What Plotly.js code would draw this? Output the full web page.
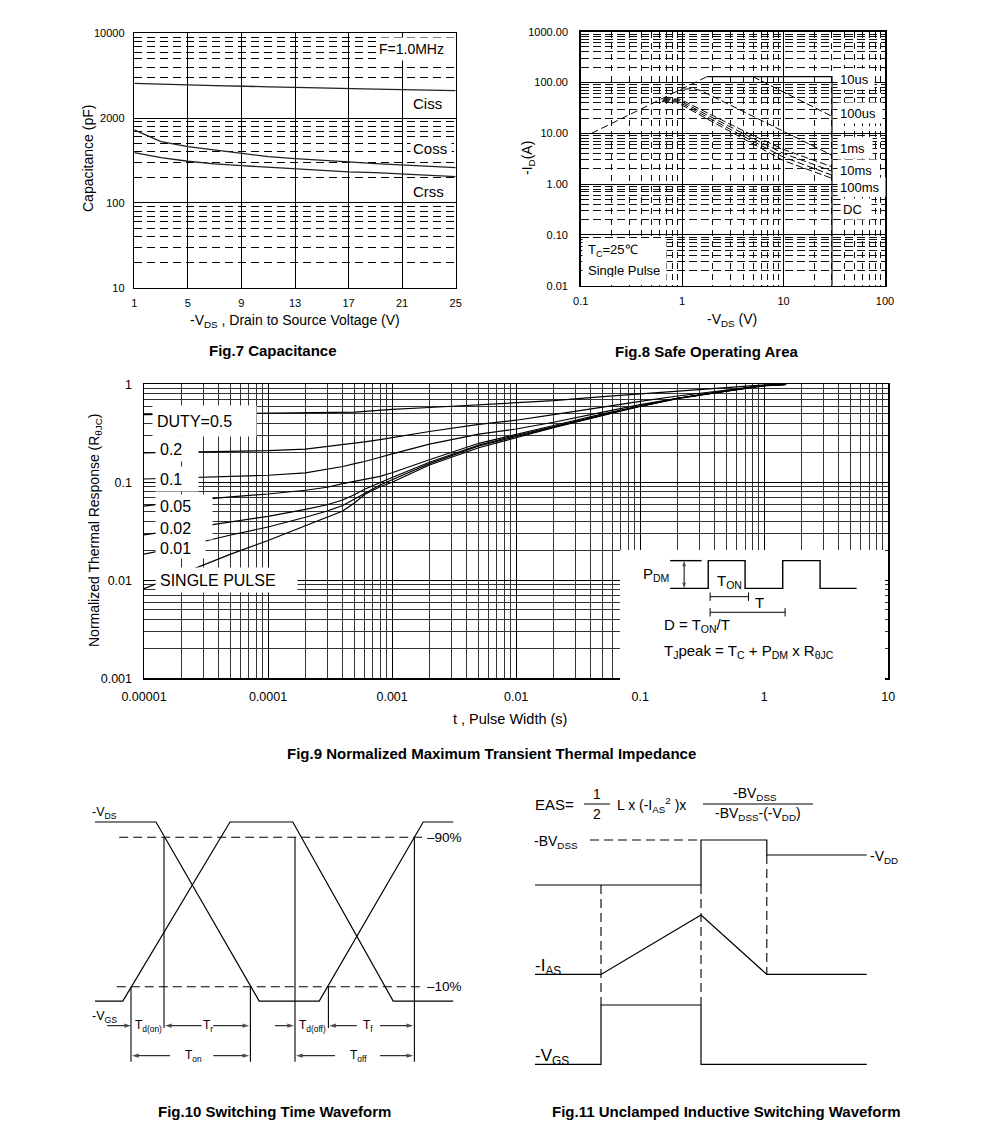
<!DOCTYPE html>
<html><head><meta charset="utf-8">
<script src="https://cdn.plot.ly/plotly-3.0.1.min.js"></script>
<style>html,body{margin:0;padding:0;background:#fff}#chart{width:991px;height:1138px}</style>
</head><body><div id="chart"></div>
<script>
// ---------------- DATA ----------------
// Fig.7 Capacitance
const capVds  = [1, 3, 5, 7, 9, 11, 13, 15, 17, 19, 21, 23, 25];
const capCiss = [2570, 2540, 2460, 2420, 2360, 2340, 2300, 2280, 2250, 2200, 2170, 2140, 2110];
const capCoss = [725, 527, 461, 421, 378, 351, 333, 321, 304, 290, 280, 273, 261];
const capCrss = [392, 342, 310, 288, 275, 263, 251, 241, 232, 228, 219, 211, 204];
const capXTicks = [1, 5, 9, 13, 17, 21, 25];
const capYTickVals = [10, 100, 1000, 10000];
const capYTickText = ['10', '100', '2000', '10000'];
const capYMinor = [20,30,40,50,60,70,80,90,200,300,400,500,600,700,800,900,3000,4000,5000,6000,7000,8000,9000];

// Fig.8 Safe Operating Area
const soaRdsV   = [0.128, 1.75];            const soaRdsI   = [10, 130];
const soaLimV   = [1.75, 30, 30];           const soaLimI   = [130, 130, 0.01];
const soa10usV  = [5.0, 30];                const soa10usI  = [130, 21.6];
const soa100usV = [1.05, 1.3, 1.56, 10.7, 30]; const soa100usI = [74, 76, 68, 10.1, 3.7];
const soa1msV   = [0.66, 0.95, 4.7, 10, 30]; const soa1msI   = [48, 47, 9.6, 4.8, 2.2];
const soa10msV  = [0.65, 0.92, 4.7, 10, 30]; const soa10msI  = [46, 45, 8.4, 4.0, 1.8];
const soa100msV = [0.64, 0.90, 4.7, 10, 30]; const soa100msI = [44, 43, 7.4, 3.4, 1.5];
const soaDcV    = [0.63, 0.88, 4.7, 10, 30]; const soaDcI    = [42, 41, 6.6, 2.9, 1.3];
const soaXTickVals = [0.1, 1, 10, 100];
const soaXTickText = ['0.1', '1', '10', '100'];
const soaYTickVals = [0.01, 0.1, 1, 10, 100, 1000];
const soaYTickText = ['0.01', '0.10', '1.00', '10.00', '100.00', '1000.00'];

// Fig.9 Transient thermal impedance
const thT = [1e-5, 2e-5, 5e-5, 1e-4, 2e-4, 3e-4, 4e-4, 5e-4, 6e-4, 8e-4, 1e-3, 2e-3, 5e-3, 1e-2, 2e-2, 5e-2, 0.1, 0.2, 0.5, 1, 1.5];
const thD05 = [0.49, 0.495, 0.50, 0.50, 0.505, 0.51, 0.515, 0.52, 0.53, 0.545, 0.555, 0.58, 0.615, 0.64, 0.68, 0.75, 0.80, 0.86, 0.93, 0.985, 1.0];
const thD02 = [0.20, 0.203, 0.207, 0.21, 0.218, 0.232, 0.24, 0.25, 0.258, 0.272, 0.285, 0.33, 0.39, 0.43, 0.49, 0.59, 0.67, 0.76, 0.87, 0.97, 1.0];
const thD01 = [0.108, 0.111, 0.115, 0.118, 0.125, 0.135, 0.145, 0.155, 0.163, 0.18, 0.195, 0.245, 0.31, 0.35, 0.41, 0.52, 0.62, 0.72, 0.85, 0.965, 1.0];
const thD005 = [0.057, 0.064, 0.071, 0.076, 0.083, 0.089, 0.097, 0.103, 0.108, 0.115, 0.125, 0.17, 0.25, 0.31, 0.38, 0.50, 0.60, 0.72, 0.86, 0.975, 1.0];
const thD002 = [0.029, 0.033, 0.039, 0.045, 0.053, 0.059, 0.066, 0.075, 0.085, 0.10, 0.112, 0.16, 0.24, 0.30, 0.37, 0.49, 0.60, 0.72, 0.86, 0.975, 1.0];
const thD001 = [0.0185, 0.022, 0.029, 0.035, 0.044, 0.051, 0.058, 0.068, 0.078, 0.094, 0.106, 0.155, 0.235, 0.295, 0.365, 0.485, 0.60, 0.72, 0.86, 0.975, 1.0];
const thSingle = [0.0082, 0.0117, 0.0185, 0.0255, 0.036, 0.044, 0.051, 0.062, 0.075, 0.09, 0.10, 0.15, 0.225, 0.285, 0.36, 0.48, 0.595, 0.715, 0.86, 0.975, 1.0];
const thXTickVals = [1e-5, 1e-4, 1e-3, 1e-2, 0.1, 1, 10];
const thXTickText = ['0.00001', '0.0001', '0.001', '0.01', '0.1', '1', '10'];
const thYTickVals = [0.001, 0.01, 0.1, 1];
const thYTickText = ['0.001', '0.01', '0.1', '1'];

// Fig.9 inset pulse train (schematic units)
const insPulseT = [18.9, 33.3, 33.3, 47.2, 47.2, 61.4, 61.4, 75.5, 75.5, 89.3];
const insPulseL = [70.5, 70.5, 91.8, 91.8, 70.5, 70.5, 91.8, 91.8, 70.5, 70.5];
const insRefT = [18.9, 30.8];  const insRefL = [91.8, 91.8];
const insTonT = [34.0, 48.5];  const insTonL = [64.1, 64.1];
const insPerT = [34.0, 62.3];  const insPerL = [52.1, 52.1];
const insPdmT = [24.2, 24.2, null, 24.2, 24.2]; const insPdmL = [81, 91.8, null, 81, 70.5];

// Fig.10 Switching waveform (schematic units)
const swVdsT = [6.25, 21.5, 47.3, 62.3, 88.3, 95.8];
const swVdsL = [86, 86, 26.3, 26.3, 86, 86];
const swVgsT = [6.25, 13.2, 40, 55.7, 80.8, 95.8];
const swVgsL = [26.3, 26.3, 86, 86, 26.3, 26.3];
const sw90T = [12.3, 88.75]; const sw90L = [80.9, 80.9];
const sw10T = [11.7, 88.75]; const sw10L = [31.1, 31.1];
const swMarkT   = [15.25, 23.5, 45.1, 56.25, 64.6, 86.1];
const swMarkTop = [31.1, 80.9, 31.1, 80.9, 31.1, 80.9];
const swMarkBot = [6.1, 17.3, 6.1, 6.1, 17.3, 6.1];
const swRow1 = [[9.3, 15.25], [32.9, 23.75], [35.8, 44.8], [51.25, 56], [71.7, 64.8], [77.5, 85.8]];
const swRow2 = [[25, 15.5], [35.8, 44.8], [66.25, 56.5], [77.5, 85.8]];

// Fig.11 Unclamped inductive switching (schematic units)
const uisVdsT = [3.75, 45.25, 45.25, 61.7, 61.7, 86.7];
const uisVdsL = [65, 65, 80, 80, 75, 75];
const uisBvT = [17.5, 45.25]; const uisBvL = [80, 80];
const uisIasT = [3.75, 20.25, 45.25, 61.7, 86.7];
const uisIasL = [35.2, 35.2, 55, 35.2, 35.2];
const uisVgsT = [3.75, 20.25, 20.25, 45.25, 45.25, 86.7];
const uisVgsL = [5.2, 5.2, 25, 25, 5.2, 5.2];
const uisGuideT = [20.25, 20.25, null, 45.25, 45.25, null, 61.7, 61.7];
const uisGuideL = [65, 25, null, 65, 25, null, 75, 35.2];
const uisBarT = [16, 22.5, null, 45.75, 73.25];
const uisBarL = [92, 92, null, 92, 92];

// ---------------- HELPERS ----------------
const W = 991, H = 1138;
const FONT = 'Liberation Sans, Arial, Helvetica, sans-serif';
const px = v => v / W, py = v => 1 - v / H;
function minorDecades(lo, hi) { const r = []; for (let e = lo; e < hi; e++) for (let m = 2; m <= 9; m++) r.push(+(m * Math.pow(10, e)).toPrecision(3)); return r; }

function line(x, y, ax, opts) {
  return Object.assign({x, y, xaxis: 'x' + ax, yaxis: 'y' + ax, mode: 'lines', hoverinfo: 'skip',
    line: {color: '#000', width: 1.2}}, opts || {});
}
// dimension arrows: one trace, arrow head at each tip point
function arrowTrace(pairs, lv, ax, size) {
  const xs = [], ys = [], sz = [];
  pairs.forEach(p => { xs.push(p[0], p[1], null); ys.push(lv, lv, null); sz.push(0, size, 0); });
  return arrowXY(xs, ys, sz, ax);
}
function arrowXY(xs, ys, sz, ax) {
  return {x: xs, y: ys, xaxis: 'x' + ax, yaxis: 'y' + ax, mode: 'lines+markers', hoverinfo: 'skip',
    line: {color: '#000', width: 1},
    marker: {symbol: 'arrow', angleref: 'previous', size: sz, color: '#000', line: {width: 0}}};
}
function txt(text, x, y, size, opts) {
  return Object.assign({text, x: px(x), y: py(y), xref: 'paper', yref: 'paper', showarrow: false,
    font: {family: FONT, size, color: '#000'}, xanchor: 'center', yanchor: 'middle'}, opts || {});
}
function box(text, left, cy, w, h, size, pad) {
  return {text, x: px(left), y: py(cy), xref: 'paper', yref: 'paper', showarrow: false, xanchor: 'left', yanchor: 'middle',
    width: w - 2 * pad, height: h - 2 * pad, borderpad: pad, align: 'left', valign: 'middle', bgcolor: '#fff',
    font: {family: FONT, size, color: '#000'}};
}
function dtxt(text, ax, x, y, size, opts) {
  return Object.assign({text, x, y, xref: 'x' + ax, yref: 'y' + ax, showarrow: false,
    font: {family: FONT, size, color: '#000'}, xanchor: 'center', yanchor: 'middle'}, opts || {});
}
function diagAxis(d) { return {domain: d, range: [0, 100], visible: false, fixedrange: true}; }

// ---------------- TRACES ----------------
const traces = [];
// Fig.7
[capCiss, capCoss, capCrss].forEach(s => traces.push(line(capVds, s, '', {xaxis: 'x', yaxis: 'y', line: {color: '#222', width: 1.3}})));
// Fig.8
traces.push(line(soaRdsV, soaRdsI, 2, {line: {color: '#000', width: 1, dash: '7px,4px'}}));
traces.push(line(soaLimV, soaLimI, 2, {line: {color: '#000', width: 1.2}}));
[[soa10usV, soa10usI], [soa100usV, soa100usI], [soa1msV, soa1msI], [soa10msV, soa10msI], [soa100msV, soa100msI], [soaDcV, soaDcI]]
  .forEach(p => traces.push(line(p[0], p[1], 2, {line: {color: '#000', width: 1, dash: '7px,3px'}})));
// Fig.9
[thD05, thD02, thD01, thD005, thD002, thD001, thSingle].forEach(s => traces.push(line(thT, s, 3, {line: {color: '#000', width: 1.2}})));
// Fig.9 inset
traces.push(line(insPulseT, insPulseL, 4, {line: {color: '#000', width: 1.4}}));
traces.push(line(insRefT, insRefL, 4, {line: {color: '#000', width: 1.4}}));
traces.push(line(insTonT, insTonL, 4, {mode: 'lines+markers', line: {color: '#000', width: 1}, marker: {symbol: 'line-ns-open', size: 6, line: {color: '#000', width: 1}}}));
traces.push(line(insPerT, insPerL, 4, {mode: 'lines+markers', line: {color: '#000', width: 1}, marker: {symbol: 'line-ns-open', size: 6, line: {color: '#000', width: 1}}}));
traces.push(arrowXY(insPdmT, insPdmL, [0, 6, 0, 0, 6], 4));
// Fig.10
traces.push(line(swVdsT, swVdsL, 5, {line: {color: '#000', width: 1.2}}));
traces.push(line(swVgsT, swVgsL, 5, {line: {color: '#000', width: 1.2}}));
traces.push(line(sw90T, sw90L, 5, {line: {color: '#000', width: 1.1, dash: '9px,5px'}}));
traces.push(line(sw10T, sw10L, 5, {line: {color: '#000', width: 1.1, dash: '9px,5px'}}));
(function(){ const xs = [], ys = []; swMarkT.forEach((t, i) => { xs.push(t, t, null); ys.push(swMarkTop[i], swMarkBot[i], null); });
  traces.push(line(xs, ys, 5, {line: {color: '#000', width: 1.1}})); })();
traces.push(arrowTrace(swRow1, 18.1, 5, 7));
traces.push(arrowTrace(swRow2, 8.1, 5, 7));
// Fig.11
traces.push(line(uisVdsT, uisVdsL, 6, {line: {color: '#000', width: 1.2}}));
traces.push(line(uisBvT, uisBvL, 6, {line: {color: '#000', width: 1.1, dash: '9px,5px'}}));
traces.push(line(uisIasT, uisIasL, 6, {line: {color: '#000', width: 1.2}}));
traces.push(line(uisVgsT, uisVgsL, 6, {line: {color: '#000', width: 1.2}}));
traces.push(line(uisGuideT, uisGuideL, 6, {line: {color: '#000', width: 1.1, dash: '9px,5px'}}));
traces.push(line(uisBarT, uisBarL, 6, {line: {color: '#000', width: 1}}));

// ---------------- AXES ----------------
const frame = {showline: true, mirror: true, linecolor: '#000', linewidth: 1.5, ticks: '', zeroline: false, fixedrange: true};
const layout = {
  width: W, height: H, autosize: false, margin: {l: 0, r: 0, t: 0, b: 0},
  paper_bgcolor: '#fff', plot_bgcolor: '#fff', showlegend: false,
  font: {family: FONT, color: '#000'},
  xaxis: Object.assign({domain: [px(134.3), px(455.7)], anchor: 'y', range: [1, 25], tickvals: capXTicks,
    showgrid: true, gridcolor: '#000', gridwidth: 1, tickfont: {size: 11}, ticklabelstandoff: 5}, frame),
  yaxis: Object.assign({domain: [py(287.7), py(33.3)], anchor: 'x', type: 'log', range: [1, 4],
    tickvals: capYTickVals, ticktext: capYTickText, showgrid: true, gridcolor: '#000', gridwidth: 1,
    minor: {tickmode: 'array', tickvals: capYMinor, showgrid: true, gridcolor: '#000', gridwidth: 1, griddash: '8px,5px', ticks: ''},
    tickfont: {size: 11}, ticklabelstandoff: 6}, frame),
  xaxis2: Object.assign({domain: [px(580.7), px(885)], anchor: 'y2', type: 'log', range: [-1, 2],
    tickvals: soaXTickVals, ticktext: soaXTickText, showgrid: true, gridcolor: '#000', gridwidth: 1,
    minor: {tickmode: 'array', tickvals: minorDecades(-1, 2), showgrid: true, gridcolor: '#111', gridwidth: 1, griddash: '6px,5px', ticks: ''},
    tickfont: {size: 11}, ticklabelstandoff: 5}, frame),
  yaxis2: Object.assign({domain: [py(285.7), py(31.7)], anchor: 'x2', type: 'log', range: [-2, 3],
    tickvals: soaYTickVals, ticktext: soaYTickText, showgrid: true, gridcolor: '#000', gridwidth: 1,
    minor: {tickmode: 'array', tickvals: minorDecades(-2, 3), showgrid: true, gridcolor: '#111', gridwidth: 1, griddash: '8px,4px', ticks: ''},
    tickfont: {size: 11}, ticklabelstandoff: 9}, frame),
  xaxis3: Object.assign({domain: [px(144), px(888.3)], anchor: 'y3', type: 'log', range: [-5, 1],
    tickvals: thXTickVals, ticktext: thXTickText, showgrid: true, gridcolor: '#000', gridwidth: 1,
    minor: {tickmode: 'array', tickvals: minorDecades(-5, 1), showgrid: true, gridcolor: '#333', gridwidth: 1, ticks: ''},
    tickfont: {size: 12.5}, ticklabelstandoff: 6}, frame),
  yaxis3: Object.assign({domain: [py(678.3), py(384.3)], anchor: 'x3', type: 'log', range: [-3, 0],
    tickvals: thYTickVals, ticktext: thYTickText, showgrid: true, gridcolor: '#000', gridwidth: 1,
    minor: {tickmode: 'array', tickvals: minorDecades(-3, 0), showgrid: true, gridcolor: '#333', gridwidth: 1, ticks: ''},
    tickfont: {size: 12.5}, ticklabelstandoff: 8}, frame),
  xaxis4: Object.assign(diagAxis([px(620), px(885)]), {anchor: 'y4'}),
  yaxis4: Object.assign(diagAxis([py(680), py(550)]), {anchor: 'x4'}),
  xaxis5: Object.assign(diagAxis([px(70), px(470)]), {anchor: 'y5'}),
  yaxis5: Object.assign(diagAxis([py(1080), py(780)]), {anchor: 'x5'}),
  xaxis6: Object.assign(diagAxis([px(520), px(920)]), {anchor: 'y6'}),
  yaxis6: Object.assign(diagAxis([py(1080), py(780)]), {anchor: 'x6'}),
  shapes: [
    {type: 'rect', xref: 'x4', yref: 'y4', x0: 0.64, x1: 99.4, y0: 2.5, y1: 97.5, fillcolor: '#fff', line: {width: 0}, layer: 'below'}
  ],
  annotations: []
};

const A = layout.annotations;
// Fig.7 texts
A.push(box('F=1.0MHz', 376, 49, 77, 22, 14, 2));
A.push(box('Ciss', 410, 103.3, 38, 20, 15, 2));
A.push(box('Coss', 410, 148.3, 40, 20, 15, 2));
A.push(box('Crss', 410, 190.7, 38, 20, 15, 2));
A.push(txt('-V<sub>DS</sub> , Drain to Source Voltage (V)', 295, 321, 14));
A.push(txt('Capacitance (pF)', 88, 159, 14, {textangle: -90}));
A.push(txt('<b>Fig.7 Capacitance</b>', 273, 351, 15));
// Fig.8 texts
A.push(box('10us', 837, 79.3, 36, 20, 13, 2));
A.push(box('100us', 837, 113.3, 44, 20, 13, 2));
A.push(box('1ms', 837, 148.3, 34, 20, 13, 2));
A.push(box('10ms', 837, 170, 40, 20, 13, 2));
A.push(box('100ms', 837, 187, 47, 18, 13, 2));
A.push(box('DC', 840, 209, 30, 20, 13, 2));
A.push(box('T<sub>C</sub>=25℃', 582, 250.5, 83, 23, 13, 5));
A.push(box('Single Pulse', 582, 270, 83, 24, 13, 5));
A.push(txt('-V<sub>DS</sub> (V)', 731.7, 320, 14));
A.push(txt('-I<sub>D</sub>(A)', 528, 158, 14, {textangle: -90}));
A.push(txt('<b>Fig.8 Safe Operating Area</b>', 706.7, 351.7, 15));
// Fig.9 texts
A.push(box('DUTY=0.5', 152, 421, 103, 30, 16, 4));
A.push(box('0.2', 155, 448.5, 42, 24, 16, 4));
A.push(box('0.1', 155, 479, 42, 24, 16, 4));
A.push(box('0.05', 155, 505.5, 56, 22, 16, 4));
A.push(box('0.02', 155, 527.5, 56, 22, 16, 4));
A.push(box('0.01', 155, 547.5, 49, 20, 16, 4));
A.push(box('SINGLE PULSE', 155, 579.5, 141, 24, 16, 4));
A.push(txt('t , Pulse Width (s)', 510, 718.5, 14.5));
A.push(txt('Normalized Thermal Response (R<sub>θJC</sub>)', 95, 531, 14, {textangle: -90}));
A.push(txt('<b>Fig.9 Normalized Maximum Transient Thermal Impedance</b>', 491.5, 753, 15));
// Fig.9 inset texts
A.push(dtxt('P<sub>DM</sub>', 4, 13.5, 80.8, 15));
A.push(dtxt('T<sub>ON</sub>', 4, 41.5, 75.4, 15));
A.push(dtxt('T', 4, 52.8, 59.6, 15));
A.push(dtxt('D = T<sub>ON</sub>/T', 4, 15.8, 42.3, 15, {xanchor: 'left'}));
A.push(dtxt('T<sub>J</sub>peak = T<sub>C</sub> + P<sub>DM</sub> x R<sub>θJC</sub>', 4, 15.8, 21.8, 15, {xanchor: 'left'}));
// Fig.10 texts
A.push(dtxt('-V<sub>DS</sub>', 5, 5, 89, 12.5, {xanchor: 'left'}));
A.push(dtxt('-V<sub>GS</sub>', 5, 5, 21.1, 12.5, {xanchor: 'left'}));
A.push(dtxt('–90%', 5, 88.75, 80.9, 13.5, {xanchor: 'left'}));
A.push(dtxt('–10%', 5, 88.75, 31.1, 13.5, {xanchor: 'left'}));
A.push(dtxt('T<sub>d(on)</sub>', 5, 19.7, 18.1, 12));
A.push(dtxt('T<sub>r</sub>', 5, 34.4, 18.1, 12));
A.push(dtxt('T<sub>d(off)</sub>', 5, 60.6, 18.1, 12));
A.push(dtxt('T<sub>f</sub>', 5, 74.5, 18.1, 12));
A.push(dtxt('T<sub>on</sub>', 5, 30.75, 8.1, 12));
A.push(dtxt('T<sub>off</sub>', 5, 72, 8.1, 12));
A.push(txt('<b>Fig.10 Switching Time Waveform</b>', 274, 1111.7, 15));
// Fig.11 texts
A.push(dtxt('EAS=', 6, 3.25, 91.7, 15, {xanchor: 'left'}));
A.push(dtxt('1', 6, 19.2, 95.3, 14));
A.push(dtxt('2', 6, 19.2, 88.6, 14));
A.push(dtxt('L x (-I<sub>AS</sub><sup>2</sup> )x', 6, 23.75, 91.7, 14, {xanchor: 'left'}));
A.push(dtxt('-BV<sub>DSS</sub>', 6, 58.75, 95.3, 14));
A.push(dtxt('-BV<sub>DSS</sub>-(-V<sub>DD</sub>)', 6, 59.5, 88.6, 14));
A.push(dtxt('-BV<sub>DSS</sub>', 6, 3, 79.4, 14, {xanchor: 'left'}));
A.push(dtxt('-V<sub>DD</sub>', 6, 87, 74.3, 14, {xanchor: 'left'}));
A.push(dtxt('-I<sub>AS</sub>', 6, 3.25, 37.8, 17, {xanchor: 'left'}));
A.push(dtxt('-V<sub>GS</sub>', 6, 3.25, 7.8, 17, {xanchor: 'left'}));
A.push(txt('<b>Fig.11 Unclamped Inductive Switching Waveform</b>', 726.7, 1111.7, 15));

Plotly.newPlot('chart', traces, layout, {staticPlot: true, displayModeBar: false});
</script></body></html>
